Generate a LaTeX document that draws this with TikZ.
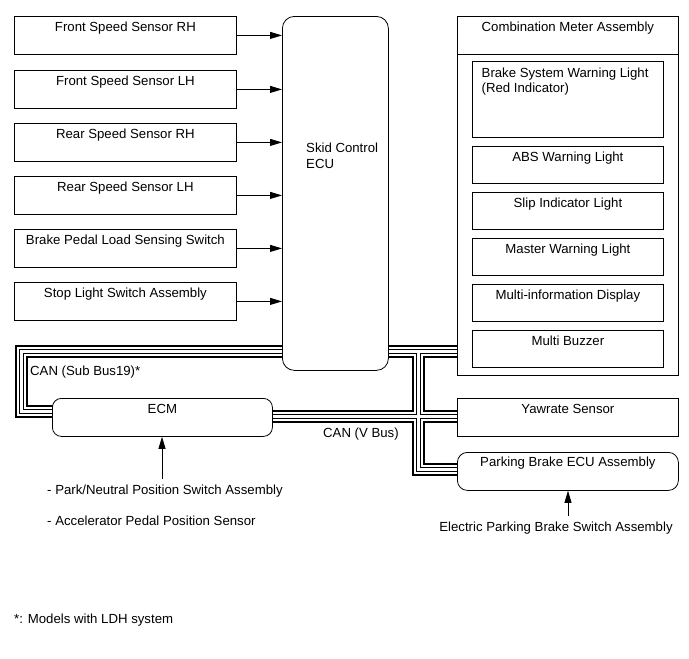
\documentclass[tikz,border=0pt]{standalone}
\usepackage{fontspec}
\setmainfont{Liberation Sans}
\usetikzlibrary{arrows.meta}
\begin{document}
\begin{tikzpicture}[x=1pt,y=-1pt,
  font=\fontsize{13.2pt}{15.5pt}\selectfont,
  box/.style={draw, line width=0.8pt, fill=white, rectangle, inner sep=0pt, anchor=north west},
  sensorbox/.style={box, minimum width=222pt, minimum height=38pt},
  lampbox/.style={box, minimum width=191pt, minimum height=37pt},
  txt/.style={anchor=base, inner sep=0pt},
  ltxt/.style={anchor=base west, inner sep=0pt},
  arr/.style={line width=0.8pt, -{Triangle[length=12pt,width=7pt]}}]
\useasboundingbox (0,0) rectangle (689,659);

% named coordinates for the CAN bus corners
\coordinate (j1) at (21,351);
\coordinate (j2) at (21,411);
\coordinate (j3) at (418,351);
\coordinate (j4) at (418,469);
\coordinate (hv) at (0,416);
\coordinate (skw) at (282,0);
\coordinate (ske) at (388,0);
\coordinate (cmw) at (457,0);
\coordinate (ecw) at (60,0);
\coordinate (ece) at (268,0);
\coordinate (pbw) at (460,0);

% CAN bus (layered double lines)
\foreach \w/\c in {13/black, 9/white, 5/black, 3/white}{
  \draw[line width=\w pt, color=\c, line join=miter, line cap=butt]
    (skw |- j1) -- (j1) -- (j2) -- (ecw |- j2)
    (ske |- j3) -- (cmw |- j3)
    (j3) -- (j4) -- (pbw |- j4)
    (ece |- hv) -- (cmw |- hv);
}

% left sensor boxes
\node[sensorbox] (fsr) at (14,16) {};
\node[sensorbox] (fsl) at (14,70) {};
\node[sensorbox] (rsr) at (14,123) {};
\node[sensorbox] (rsl) at (14,176) {};
\node[sensorbox] (bpl) at (14,229) {};
\node[sensorbox] (sls) at (14,282) {};
\node[txt] at ([yshift=-15.5pt]fsr.north) {Front Speed Sensor RH};
\node[txt] at ([yshift=-15.5pt]fsl.north) {Front Speed Sensor LH};
\node[txt] at ([yshift=-15.5pt]rsr.north) {Rear Speed Sensor RH};
\node[txt] at ([yshift=-15.5pt]rsl.north) {Rear Speed Sensor LH};
\node[txt] at ([yshift=-15.5pt]bpl.north) {Brake Pedal Load Sensing Switch};
\node[txt] at ([yshift=-15.5pt]sls.north) {Stop Light Switch Assembly};

% skid control ECU
\node[box, rounded corners=12pt, minimum width=106pt, minimum height=354pt] (skid) at (282,16) {};
\node[ltxt] at (306,152.5) {Skid Control};
\node[ltxt] at (306,168) {ECU};

\foreach \s in {fsr,fsl,rsr,rsl,bpl,sls}
  \draw[arr] (\s.east) -- (\s.east -| skid.west);

% combination meter
\node[box, minimum width=221pt, minimum height=359pt] (cma) at (457,16) {};
\draw[line width=0.8pt] ([yshift=-38pt]cma.north west) -- ([yshift=-38pt]cma.north east);
\node[txt] at ([yshift=-15pt]cma.north) {Combination Meter Assembly};
\node[box, minimum width=191pt, minimum height=76pt] (bsw) at (472,61) {};
\node[ltxt] at (481.5,77) {Brake System Warning Light};
\node[ltxt] at (481.5,92.5) {(Red Indicator)};
\node[lampbox] (abs) at (472,146) {};
\node[lampbox] (slip) at (472,192) {};
\node[lampbox] (mwl) at (472,238) {};
\node[lampbox] (mid) at (472,284) {};
\node[lampbox] (mbz) at (472,330) {};
\node[txt] at ([yshift=-15.5pt]abs.north) {ABS Warning Light};
\node[txt] at ([yshift=-15.5pt]slip.north) {Slip Indicator Light};
\node[txt] at ([yshift=-15.5pt]mwl.north) {Master Warning Light};
\node[txt] at ([yshift=-15.5pt]mid.north) {Multi-information Display};
\node[txt] at ([yshift=-15.5pt]mbz.north) {Multi Buzzer};

% ECM, yawrate, parking brake
\node[box, rounded corners=9pt, minimum width=220pt, minimum height=38pt] (ecm) at (52,398) {};
\node[txt] at ([yshift=-15pt]ecm.north) {ECM};
\node[box, minimum width=221pt, minimum height=38pt] (yaw) at (457,398) {};
\node[txt] at ([yshift=-15pt]yaw.north) {Yawrate Sensor};
\node[box, rounded corners=10pt, minimum width=221pt, minimum height=38pt] (pbe) at (457,452) {};
\node[txt] at ([yshift=-14.5pt]pbe.north) {Parking Brake ECU Assembly};

% bus labels
\node[ltxt] at (30,375.5) {CAN (Sub Bus19)*};
\node[ltxt] at (323,437.5) {CAN (V Bus)};

% inputs
\coordinate (ecmin) at (162,479);
\draw[arr] (ecmin) -- (ecmin |- ecm.south);
\node[ltxt] at (47,494) {- Park/Neutral Position Switch Assembly};
\node[ltxt] at (47,525) {- Accelerator Pedal Position Sensor};
\coordinate (pbin) at (568,516);
\draw[arr] (pbin) -- (pbin |- pbe.south);
\node[txt] at (556,531) {Electric Parking Brake Switch Assembly};

\node[ltxt] at (14,623) {*: Models with LDH system};
\end{tikzpicture}
\end{document}
